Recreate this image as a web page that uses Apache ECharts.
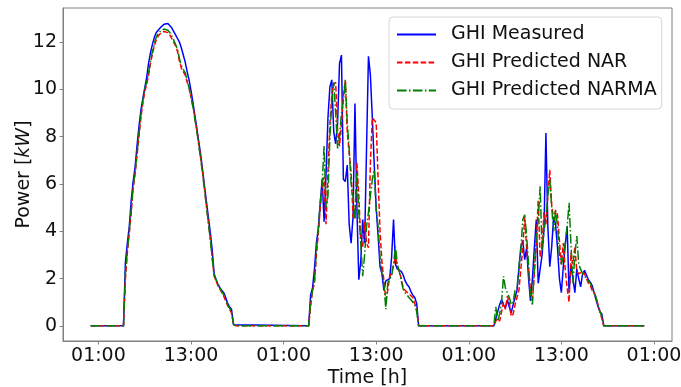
<!DOCTYPE html>
<html>
<head>
    <meta charset="UTF-8">
    <title>GHI</title>
    <style>
        body,
        html {
            width: 100%;
            height: 100%;
            margin: 0;
            padding: 0;
            background: #fff;
        }
        #myChart {
            width: 681px;
            height: 387px;
        }
    </style>
    <script src="https://cdn.jsdelivr.net/npm/echarts@6.0.0/dist/echarts.min.js"></script>
</head>
<body>
    <div id="myChart"></div>
    <script>

        // 数据：每天白天的功率 (kW)，15 分钟一个点，从 dayStart 开始
        const step = 0.25;
        const tStart = 0;
        const tEnd = 71.75;
        const dayStart = [4.25, 28.25, 52.25];

        const measuredDay1 = [0, 2.7, 3.5, 4.2, 5.3, 6.1, 6.7, 7.6, 8.4, 9.1, 9.6, 10.05, 10.5, 11.1, 11.55, 11.9, 12.2, 12.4, 12.5, 12.6, 12.68, 12.75, 12.8, 12.78, 12.7, 12.6, 12.45, 12.3, 12.15, 12.0, 11.75, 11.45, 11.15, 10.75, 10.4, 9.95, 9.45, 8.9, 8.35, 7.8, 7.25, 6.6, 5.9, 5.25, 4.6, 3.95, 3.2, 2.2, 1.95, 1.75, 1.6, 1.5, 1.4, 1.2, 0.95, 0.8, 0.7, 0.05, 0];
        const measuredDay2 = [0, 1.3, 1.6, 2.4, 3.5, 4.1, 5.2, 6.2, 4.4, 6.4, 8.8, 10.1, 10.4, 8.2, 7.7, 8.6, 11.1, 11.45, 6.2, 6.1, 6.8, 4.3, 3.5, 4.6, 9.4, 5.0, 1.95, 2.7, 4.5, 3.5, 7.5, 11.4, 10.6, 8.8, 6.8, 5.0, 3.8, 2.5, 2.2, 1.5, 1.9, 1.9, 2.0, 2.9, 4.5, 2.6, 2.4, 2.35, 2.3, 2.15, 1.9, 1.75, 1.65, 1.45, 1.3, 1.2, 0.95, 0];
        const measuredDay3 = [0, 0.3, 0.6, 0.9, 1.1, 0.9, 0.75, 1.1, 0.8, 0.55, 0.9, 1.2, 1.5, 2.4, 3.35, 3.6, 2.8, 3.3, 2.0, 1.05, 2.0, 3.3, 4.5, 1.8, 1.85, 3.0, 4.1, 8.15, 4.2, 2.5, 3.35, 4.6, 4.3, 3.3, 2.0, 1.4, 2.5, 3.4, 4.2, 1.4, 2.6, 2.0, 1.4, 2.4, 2.0, 1.65, 2.2, 2.35, 2.3, 1.95, 1.85, 1.7, 1.4, 1.1, 0.82, 0.6, 0.5, 0];

        const narDay1 = [0, 2.0, 3.1, 3.9, 4.8, 5.8, 6.4, 7.2, 8.0, 8.8, 9.4, 9.9, 10.2, 10.6, 11.1, 11.5, 11.85, 12.1, 12.25, 12.35, 12.42, 12.45, 12.45, 12.4, 12.3, 12.15, 12.0, 11.85, 11.6, 11.2, 10.9, 10.75, 10.6, 10.3, 10.1, 9.7, 9.3, 8.8, 8.3, 7.7, 7.1, 6.5, 5.8, 5.1, 4.4, 3.7, 2.9, 2.1, 1.9, 1.7, 1.55, 1.4, 1.25, 1.05, 0.85, 0.7, 0.55, 0.1, 0];
        const narDay2 = [0, 0.8, 1.5, 1.8, 3.0, 3.9, 5.0, 5.8, 6.3, 4.3, 6.5, 8.5, 9.8, 10.2, 10.3, 8.3, 7.6, 8.5, 9.7, 10.4, 8.2, 7.3, 6.5, 4.6, 4.5, 6.9, 5.5, 3.6, 3.3, 4.4, 3.5, 3.3, 6.9, 8.8, 8.85, 8.6, 6.2, 4.0, 2.7, 1.9, 1.1, 1.5, 2.1, 2.2, 2.6, 2.9, 2.5, 2.3, 2.0, 1.6, 1.5, 1.45, 1.35, 1.3, 1.2, 0.95, 0.7, 0];
        const narDay3 = [0, 0.2, 0.3, 0.2, 0.6, 1.0, 0.7, 1.25, 1.0, 0.4, 0.5, 0.9, 1.2, 1.5, 2.4, 3.3, 4.6, 3.3, 2.4, 1.5, 1.1, 2.2, 3.5, 5.3, 2.9, 3.4, 4.8, 4.3, 5.5, 6.6, 5.1, 4.5, 4.9, 4.7, 3.6, 2.6, 3.5, 2.4, 1.6, 1.0, 3.1, 2.6, 3.35, 2.3, 2.2, 2.2, 2.3, 2.2, 2.0, 1.8, 1.7, 1.5, 1.4, 1.2, 0.9, 0.6, 0.3, 0];

        const narmaDay1 = [0, 2.2, 3.2, 4.0, 4.9, 5.9, 6.5, 7.3, 8.1, 8.9, 9.5, 10.0, 10.3, 10.7, 11.2, 11.6, 11.95, 12.2, 12.35, 12.45, 12.52, 12.55, 12.55, 12.5, 12.4, 12.25, 12.1, 11.9, 11.7, 11.3, 11.0, 10.85, 10.7, 10.4, 10.05, 9.65, 9.25, 8.75, 8.25, 7.65, 7.05, 6.45, 5.75, 5.05, 4.35, 3.65, 2.85, 2.15, 1.95, 1.8, 1.6, 1.45, 1.3, 1.1, 0.9, 0.75, 0.6, 0.1, 0];
        const narmaDay2 = [0, 1.0, 1.5, 1.9, 3.2, 4.1, 5.2, 6.0, 7.6, 5.0, 5.5, 8.0, 9.5, 10.3, 9.0, 7.5, 8.0, 9.0, 9.5, 10.4, 8.6, 7.5, 6.0, 5.5, 4.5, 6.5, 4.8, 3.5, 2.1, 3.0, 4.2, 4.8, 5.5, 6.2, 6.6, 4.9, 4.2, 2.9, 2.2, 1.8, 0.7, 1.8, 2.0, 2.1, 2.6, 3.35, 2.6, 2.3, 1.9, 1.55, 1.4, 1.3, 1.2, 1.1, 1.0, 0.9, 0.6, 0];
        const narmaDay3 = [0, 0.8, 0.2, 0.5, 1.0, 2.1, 1.6, 1.4, 1.2, 0.9, 1.0, 1.5, 1.6, 2.5, 3.2, 4.5, 4.7, 3.8, 2.6, 1.2, 0.9, 2.5, 3.8, 4.5, 5.9, 3.2, 4.0, 4.6, 5.5, 6.2, 5.0, 4.0, 4.9, 4.2, 3.0, 2.6, 2.9, 3.5, 4.2, 5.2, 3.4, 1.8, 3.0, 3.8, 2.6, 2.4, 2.2, 2.1, 2.0, 1.9, 1.8, 1.6, 1.4, 1.2, 0.9, 0.6, 0.4, 0];

        // 刻度 (小时，从第一天 00:00 算)
        const xTicks = [1, 13, 25, 37, 49, 61, 73];
        const yTicks = [0, 2, 4, 6, 8, 10, 12];

        const seriesNames = ['GHI Measured', 'GHI Predicted NAR', 'GHI Predicted NARMA'];

        // 夜间补 0，拼成 [时间, 值]
        function buildLine(days) {
            let pts = [[tStart, 0]];
            days.forEach((arr, d) => {
                arr.forEach((v, i) => pts.push([dayStart[d] + i * step, v]));
            });
            pts.push([tEnd, 0]);
            return pts;
        }

        const font = 'DejaVu Sans';
        const grey = '#808080';

        let myEcharts = echarts.init(document.querySelector('#myChart'), null, { renderer: 'canvas' });

        let option = {
            animation: false,
            backgroundColor: '#fff',
            grid: {
                left: 63, right: 9, top: 8, bottom: 46,
                outerBoundsMode: 'none',
                show: true, borderColor: grey, borderWidth: 1
            },
            legend: {
                orient: 'vertical',
                left: 389, top: 17,
                padding: [8, 5, 9, 7],
                itemGap: 9,
                itemWidth: 39,
                itemHeight: 19,
                itemStyle: { opacity: 0 },
                backgroundColor: '#fff',
                borderColor: '#d6d6d6',
                borderWidth: 1,
                borderRadius: 4,
                textStyle: { fontFamily: font, fontSize: 19, color: '#111', lineHeight: 19, padding: [0, 0, 0, 10] },
                data: seriesNames
            },
            xAxis: {
                type: 'value',
                min: -3.59, max: 75.34,
                splitLine: { show: false },
                axisLine: { onZero: false, lineStyle: { color: grey } },
                axisTick: { length: 3.5, lineStyle: { color: grey }, customValues: xTicks },
                axisLabel: {
                    customValues: xTicks,
                    margin: 6,
                    fontFamily: font, fontSize: 19, color: '#111',
                    formatter: v => String(v % 24).padStart(2, '0') + ':00'
                },
                name: 'Time [h]',
                nameLocation: 'middle',
                nameGap: 28,
                nameMoveOverlap: false,
                nameTextStyle: { fontFamily: font, fontSize: 19, color: '#111' }
            },
            yAxis: {
                type: 'value',
                min: -0.64, max: 13.44,
                splitLine: { show: false },
                axisLine: { show: true, onZero: false, lineStyle: { color: grey } },
                axisTick: { show: true, length: 3.5, lineStyle: { color: grey }, customValues: yTicks },
                axisLabel: { customValues: yTicks, margin: 6, fontFamily: font, fontSize: 19, color: '#111' },
                name: '{n|Power [}{i|kW}{n|]}',
                nameLocation: 'middle',
                nameGap: 29,
                nameMoveOverlap: false,
                nameTextStyle: {
                    rich: {
                        n: { fontFamily: font, fontSize: 19, color: '#111' },
                        i: { fontFamily: font, fontSize: 19, fontStyle: 'italic', color: '#111' }
                    }
                }
            },
            series: [
                {
                    name: seriesNames[0], type: 'line', symbol: 'none',
                    data: buildLine([measuredDay1, measuredDay2, measuredDay3]),
                    lineStyle: { color: '#0000ff', width: 1.5 },
                    itemStyle: { color: '#0000ff' }
                },
                {
                    name: seriesNames[1], type: 'line', symbol: 'none',
                    data: buildLine([narDay1, narDay2, narDay3]),
                    lineStyle: { color: '#ff0000', width: 1.5, type: [5.5, 2.4] },
                    itemStyle: { color: '#ff0000' }
                },
                {
                    name: seriesNames[2], type: 'line', symbol: 'none',
                    data: buildLine([narmaDay1, narmaDay2, narmaDay3]),
                    lineStyle: { color: '#008000', width: 1.5, type: [9.6, 2.4, 1.5, 2.4] },
                    itemStyle: { color: '#008000' }
                }
            ]
        };
        myEcharts.setOption(option, true);

    </script>
</body>
</html>
